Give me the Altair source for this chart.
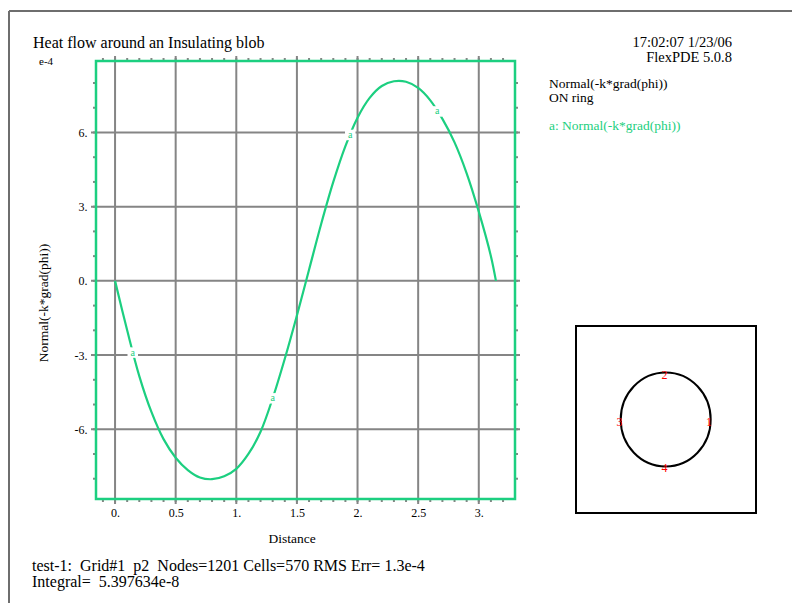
import altair as alt
import pandas as pd

# Normal flux along the ring (values in units of 1e-4)
distance = [0.0, 0.1, 0.2, 0.3, 0.4, 0.5, 0.6, 0.7, 0.8, 0.9, 1.0, 1.1, 1.2, 1.3,
            1.4, 1.5, 1.6, 1.7, 1.8, 1.9, 2.0, 2.1, 2.2, 2.3, 2.4, 2.5, 2.6, 2.7,
            2.8, 2.9, 3.0, 3.1, 3.1416]
flux = [0.0, -2.0, -3.85, -5.3, -6.4, -7.15, -7.65, -7.95, -8.02, -7.9, -7.6, -7.0,
        -6.1, -4.75, -3.15, -1.4, 0.45, 2.3, 4.0, 5.45, 6.6, 7.4, 7.88, 8.07, 8.05,
        7.8, 7.3, 6.55, 5.6, 4.35, 2.8, 1.0, 0.0]

# curve tags ("a") placed on the line
tag_distance = [0.146, 1.30, 1.94, 2.657]
tag_flux = [-2.9, -4.75, 5.9, 6.85]

# axis ticks
grid_x = [0.0, 0.5, 1.0, 1.5, 2.0, 2.5, 3.0]
grid_y = [-6, -3, 0, 3, 6]
minor_x = [round(-0.1 + 0.1 * i, 1) for i in range(34)]
minor_y = list(range(-8, 9))

X_DOMAIN = [-0.1571, 3.2987]
Y_DOMAIN = [-8.82, 8.89]
W, H = 419, 438
LEFT, TOP = 96, 61

GREEN = "#1ccf80"
GRID = "#858585"
FONT = "Liberation Serif"

xs = alt.Scale(domain=X_DOMAIN, nice=False, zero=False)
ys = alt.Scale(domain=Y_DOMAIN, nice=False, zero=False)

curve_df = pd.DataFrame({"d": distance, "f": flux})
tags_df = pd.DataFrame({"d": tag_distance, "f": tag_flux})
gx_df = pd.DataFrame({"v": grid_x})
gy_df = pd.DataFrame({"v": grid_y})
mx_df = pd.DataFrame({"v": minor_x})
my_df = pd.DataFrame({"v": minor_y})

one = alt.Data(values=[{}])


def text(s, x, y, size=16, color="black", align="left", baseline="alphabetic", angle=0):
    return alt.Chart(one).mark_text(
        text=s, font=FONT, fontSize=size, color=color, align=align,
        baseline=baseline, angle=angle,
    ).encode(x=alt.value(x - LEFT), y=alt.value(y - TOP))


def hline(x1, x2, y, color, width):
    return alt.Chart(one).mark_rule(color=color, strokeWidth=width).encode(
        x=alt.value(x1 - LEFT), x2=alt.value(x2 - LEFT), y=alt.value(y - TOP))


def vline(x, y1, y2, color, width):
    return alt.Chart(one).mark_rule(color=color, strokeWidth=width).encode(
        x=alt.value(x - LEFT), y=alt.value(y1 - TOP), y2=alt.value(y2 - TOP))


# outer page frame
page = hline(9, 792, 11, "#6e6e6e", 2) + vline(9, 11, 603, "#6e6e6e", 2)

# major grid lines, extending a little past the frame
vgrid = alt.Chart(gx_df).mark_rule(color=GRID, strokeWidth=2).encode(
    x=alt.X("v:Q", scale=xs,
            axis=alt.Axis(orient="bottom", values=grid_x, title=None, grid=False,
                          domain=False, ticks=False, tickSize=0, labelPadding=8,
                          labelFont=FONT, labelFontSize=12, labelColor="black",
                          labelExpr="datum.value % 1 == 0 ? datum.value + '.' : '' + datum.value")),
    y=alt.value(-5), y2=alt.value(H + 5))
hgrid = alt.Chart(gy_df).mark_rule(color=GRID, strokeWidth=2).encode(
    y=alt.Y("v:Q", scale=ys,
            axis=alt.Axis(orient="left", values=grid_y, title=None, grid=False,
                          domain=False, ticks=False, tickSize=0, labelPadding=9,
                          labelFont=FONT, labelFontSize=12, labelColor="black",
                          labelBaseline="middle",
                          labelExpr="datum.value + '.'")),
    x=alt.value(-5), x2=alt.value(W + 5))

# minor ticks outside the frame on all four sides
mtick_b = alt.Chart(mx_df).mark_rule(color=GRID, strokeWidth=2).encode(
    x=alt.X("v:Q", scale=xs), y=alt.value(H), y2=alt.value(H + 3))
mtick_t = alt.Chart(mx_df).mark_rule(color=GRID, strokeWidth=2).encode(
    x=alt.X("v:Q", scale=xs), y=alt.value(-3), y2=alt.value(0))
mtick_l = alt.Chart(my_df).mark_rule(color=GRID, strokeWidth=2).encode(
    y=alt.Y("v:Q", scale=ys), x=alt.value(-3), x2=alt.value(0))
mtick_r = alt.Chart(my_df).mark_rule(color=GRID, strokeWidth=2).encode(
    y=alt.Y("v:Q", scale=ys), x=alt.value(W), x2=alt.value(W + 3))

frame = alt.Chart(one).mark_rect(fill=None, stroke=GREEN, strokeWidth=2.5).encode(
    x=alt.value(0), x2=alt.value(W), y=alt.value(0), y2=alt.value(H))

line = alt.Chart(curve_df).mark_line(color=GREEN, strokeWidth=2.2,
                                     interpolate="catmull-rom").encode(
    x=alt.X("d:Q", scale=xs), y=alt.Y("f:Q", scale=ys))

tag_gap = alt.Chart(tags_df).mark_point(shape="square", filled=True, fill="white",
                                         stroke=None, size=110, opacity=1).encode(
    x=alt.X("d:Q", scale=xs), y=alt.Y("f:Q", scale=ys))
tag_text = alt.Chart(tags_df).mark_text(text="a", font=FONT, fontSize=10, color=GREEN,
                                        baseline="middle").encode(
    x=alt.X("d:Q", scale=xs), y=alt.Y("f:Q", scale=ys))

# headings and annotations
notes = (
    text("Heat flow around an Insulating blob", 33, 48)
    + text("e-4", 39, 65, size=11)
    + text("17:02:07 1/23/06", 732, 47, size=14.5, align="right")
    + text("FlexPDE 5.0.8", 732, 62, size=14.5, align="right")
    + text("Normal(-k*grad(phi))", 549, 88, size=13.5)
    + text("ON ring", 549, 102, size=13.5)
    + text("a: Normal(-k*grad(phi))", 549, 130, size=13.5, color=GREEN)
    + text("Distance", 292, 543, size=13.5, align="center")
    + text("Normal(-k*grad(phi))", 44, 303, size=13.5, align="center",
           baseline="middle", angle=270)
    + text("test-1:\u00a0 Grid#1\u00a0 p2\u00a0 Nodes=1201 Cells=570 RMS Err= 1.3e-4", 32, 571)
    + text("Integral=\u00a0 5.397634e-8", 32, 587)
)

# domain sketch: outer box and the ring with its segment numbers
box = alt.Chart(one).mark_rect(fill=None, stroke="black", strokeWidth=2).encode(
    x=alt.value(576 - LEFT), x2=alt.value(756 - LEFT),
    y=alt.value(326 - TOP), y2=alt.value(513 - TOP))
ring = alt.Chart(one).mark_point(
    shape="M -0.957,0 A 0.957,1 0 1 1 0.957,0 A 0.957,1 0 1 1 -0.957,0 Z",
    size=8836, filled=False, stroke="black", strokeWidth=2, opacity=1,
).encode(x=alt.value(665.7 - LEFT), y=alt.value(419.5 - TOP))
marks = (
    text("1", 709, 422, size=12, color="red", align="center", baseline="middle")
    + text("2", 664.5, 375, size=12, color="red", align="center", baseline="middle")
    + text("3", 619.5, 422, size=12, color="red", align="center", baseline="middle")
    + text("4", 664.5, 468, size=12, color="red", align="center", baseline="middle")
)

chart = alt.layer(
    page, vgrid, hgrid, mtick_b, mtick_t, mtick_l, mtick_r, frame, line,
    tag_gap, tag_text, notes, box, ring, marks,
).properties(
    width=W, height=H,
    autosize=alt.AutoSizeParams(type="none"),
    padding={"left": LEFT, "top": TOP, "right": 792 - LEFT - W, "bottom": 603 - TOP - H},
    background="white",
).configure_view(stroke=None)

chart.save("out.html", embed_options={"renderer": "svg", "actions": False})
